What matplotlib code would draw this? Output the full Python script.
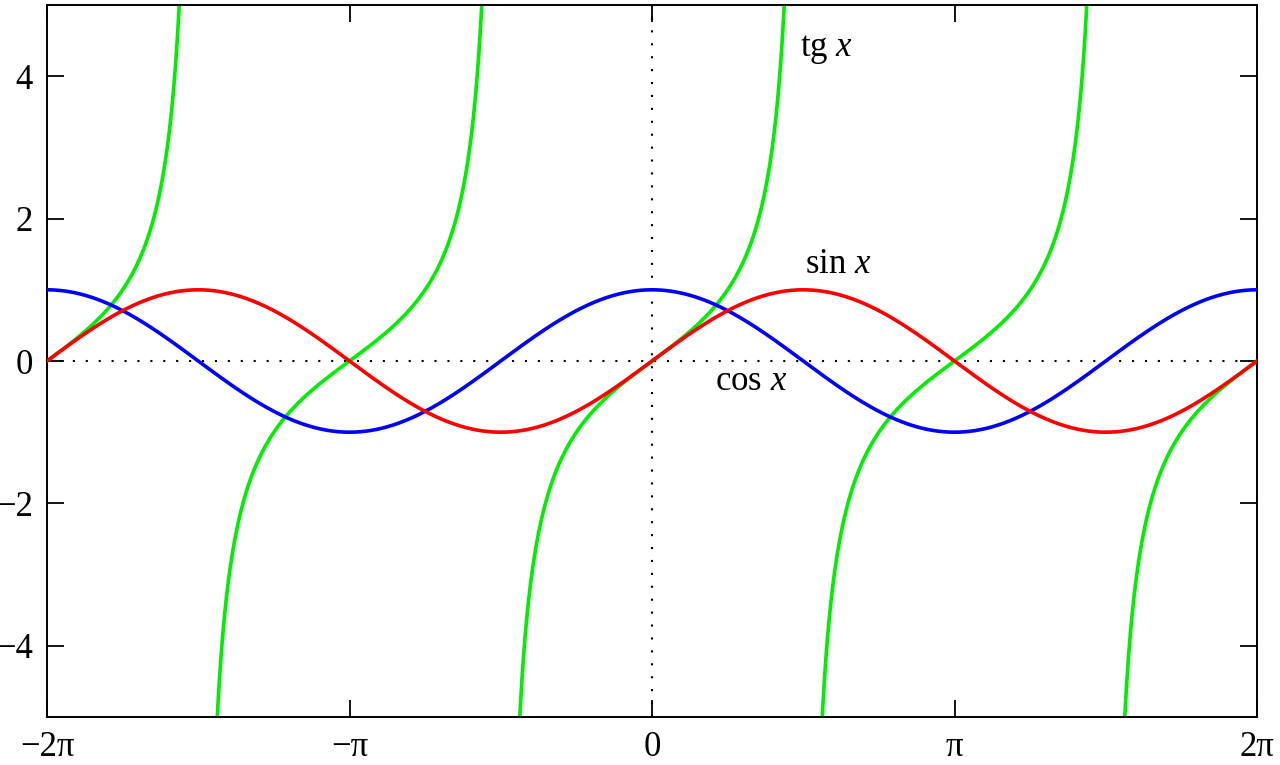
"""
Plot of the trigonometric functions sin x, cos x and tg x on [-2pi, 2pi].
"""
import numpy as np
import matplotlib.pyplot as plt

plt.rcParams['font.family'] = ['Liberation Serif', 'DejaVu Serif']
plt.rcParams['mathtext.fontset'] = 'custom'
plt.rcParams['mathtext.rm'] = 'Liberation Serif'
plt.rcParams['mathtext.it'] = 'Liberation Serif:italic'

# axis settings
x_min, x_max = -2 * np.pi, 2 * np.pi
y_min, y_max = -5, 5
x_ticks = [-2 * np.pi, -np.pi, 0, np.pi, 2 * np.pi]
x_tick_labels = ['\u22122\u03c0', '\u2212\u03c0', '0', '\u03c0', '2\u03c0']
y_ticks = [-4, -2, 0, 2, 4]
y_tick_labels = ['\u22124', '\u22122', '0', '2', '4']

# curve labels: text, x, y
labels = ['tg $x$', 'sin $x$', 'cos $x$']
label_x = [1.54, 1.59, 0.65]
label_y = [4.37, 1.36, -0.29]

# the plotted functions
x = np.linspace(x_min, x_max, 4001)
sin_y = np.sin(x)
cos_y = np.cos(x)
tan_y = np.tan(x)
tan_y[np.abs(tan_y) > 60] = np.nan  # break the line at the asymptotes

fig = plt.figure(figsize=(12.8, 7.65), dpi=100)
ax = fig.add_axes([47 / 1280, 1 - 717 / 765, (1257 - 47) / 1280, (717 - 5) / 765])

# zero axes
ax.axhline(0, color='black', linestyle=(0, (1, 5.2)), linewidth=1.5, zorder=1)
ax.axvline(0, color='black', linestyle=(0, (1, 5.2)), linewidth=1.5, zorder=1)

ax.plot(x, tan_y, color='#00ee00', linewidth=2.6, zorder=2)
ax.plot(x, cos_y, color='#0000ff', linewidth=2.6, zorder=3)
ax.plot(x, sin_y, color='#ff0000', linewidth=2.6, zorder=4)

for text, tx, ty in zip(labels, label_x, label_y):
    ax.text(tx, ty, text, fontsize=25, ha='left', va='center')

ax.set_xlim(x_min, x_max)
ax.set_ylim(y_min, y_max)
ax.set_xticks(x_ticks)
ax.set_xticklabels(x_tick_labels)
ax.set_yticks(y_ticks)
ax.set_yticklabels(y_tick_labels)
ax.tick_params(direction='in', length=12, width=1.3, labelsize=25,
               top=True, right=True, pad=10)
for spine in ax.spines.values():
    spine.set_linewidth(1.4)

fig.savefig('out.png', dpi=100)
